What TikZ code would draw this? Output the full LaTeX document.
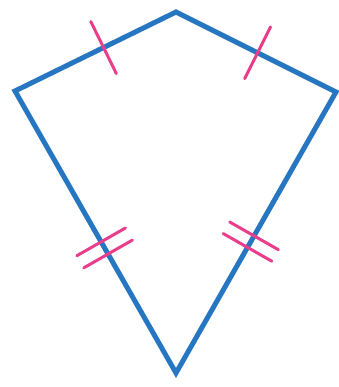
\documentclass[tikz,border=0pt]{standalone}
\usepackage{tikz}
\usetikzlibrary{calc}
\definecolor{kiteblue}{RGB}{38, 118, 194}
\definecolor{tickpink}{RGB}{232, 62, 140}

\begin{document}
\begin{tikzpicture}[
    x=1pt, y=-1pt,
    side/.style={draw=kiteblue, line width=5pt, line join=miter},
    tick/.style={draw=tickpink, line width=3pt, line cap=round}
]
\useasboundingbox (0,0) rectangle (338,387);

%% ── Corners ─────────────────────────────────────────────────────────────────
\coordinate (top)    at (176, 12);
\coordinate (left)   at (15, 91);
\coordinate (right)  at (336, 92);
\coordinate (bottom) at (176, 373);

%% ── Kite ────────────────────────────────────────────────────────────────────
\draw[side] (top) -- (right) -- (bottom) -- (left) -- cycle;

%% ── Tick positions ──────────────────────────────────────────────────────────
\coordinate (tl)  at ($(left)!0.55!(top)$);
\coordinate (tr)  at ($(top)!0.51!(right)$);
\coordinate (bl1) at ($(left)!0.535!(bottom)$);
\coordinate (bl2) at ($(left)!0.578!(bottom)$);
\coordinate (br1) at ($(right)!0.512!(bottom)$);
\coordinate (br2) at ($(right)!0.553!(bottom)$);

%% ── Single ticks (upper sides) ──────────────────────────────────────────────
\draw[tick] ($(tl)!29pt!90:(top)$) -- ($(tl)!29pt!-90:(top)$);
\draw[tick] ($(tr)!29pt!90:(right)$) -- ($(tr)!29pt!-90:(right)$);

%% ── Double ticks (lower sides) ───────────────────────────────────────────────
\foreach \m in {bl1, bl2} {
  \draw[tick] ($(\m)!28pt!90:(bottom)$) -- ($(\m)!28pt!-90:(bottom)$);
}
\foreach \m in {br1, br2} {
  \draw[tick] ($(\m)!28pt!90:(bottom)$) -- ($(\m)!28pt!-90:(bottom)$);
}

\end{tikzpicture}
\end{document}
